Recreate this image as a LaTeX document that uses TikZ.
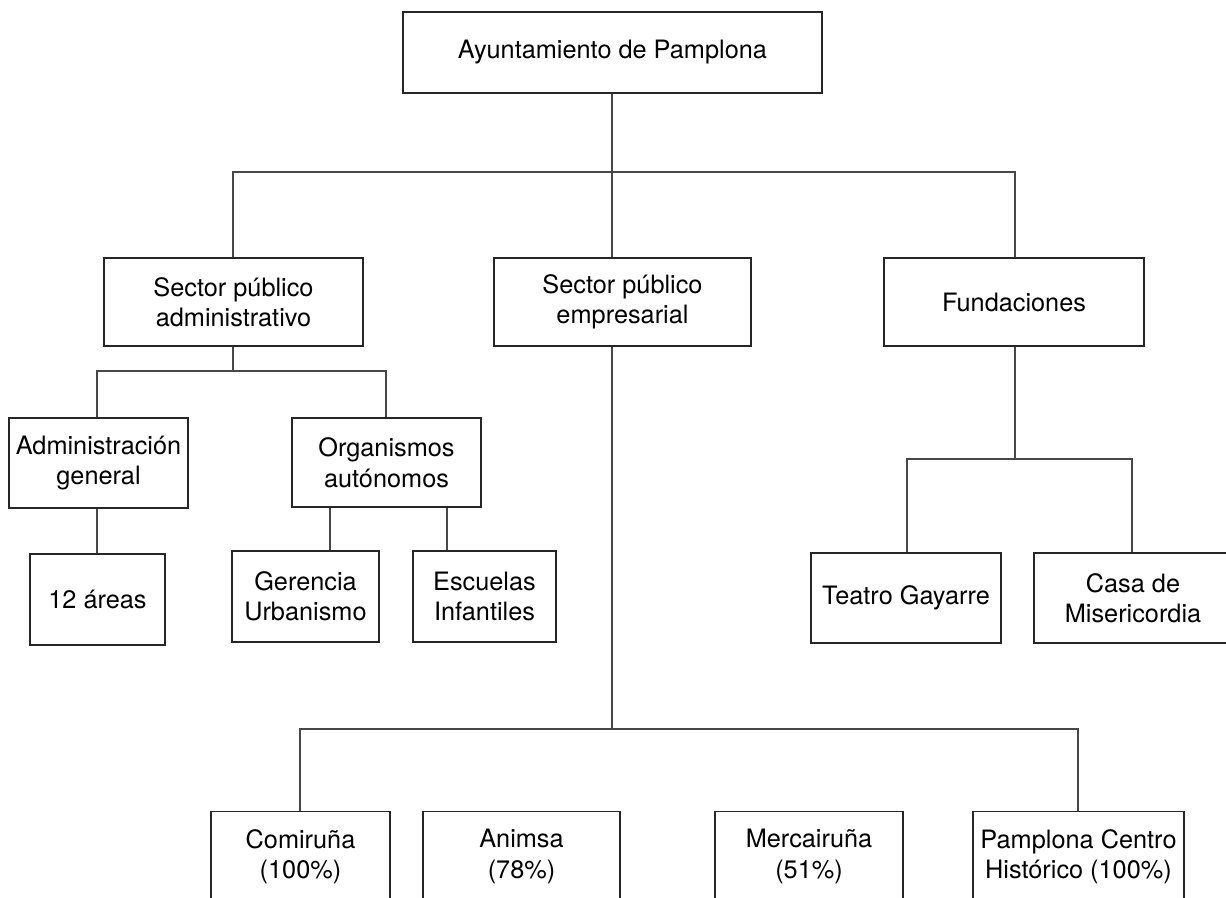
\documentclass[tikz,border=0pt]{standalone}
\usepackage{fontspec}
\setmainfont{TeX Gyre Heros}
\begin{document}
\begin{tikzpicture}[x=1pt,y=-1pt,
  box/.style={draw=black!85,line width=1.1pt,fill=white,inner sep=0pt,align=center,
    font=\fontsize{25.3}{30.5}\selectfont},
  link/.style={draw=black!72,line width=1.2pt}]
\useasboundingbox (0,0) rectangle (1226,897);
% nodes
\node[box,minimum width=419pt,minimum height=81pt] (top) at (612.5,52.5) {Ayuntamiento de Pamplona};
\node[box,minimum width=259pt,minimum height=88pt] (spa) at (233.5,302) {Sector público\\administrativo};
\node[box,minimum width=257pt,minimum height=88pt] (spe) at (622.5,302) {Sector público\\empresarial};
\node[box,minimum width=260pt,minimum height=88pt] (fun) at (1014,302) {Fundaciones};
\node[box,minimum width=179pt,minimum height=90pt] (adm) at (98.5,463) {Administración\\general};
\node[box,minimum width=189pt,minimum height=89pt] (org) at (386.5,462.5) {Organismos\\autónomos};
\node[box,minimum width=135pt,minimum height=91pt] (are) at (97.5,599.5) {12 áreas};
\node[box,minimum width=147pt,minimum height=91pt] (ger) at (305.5,596.5) {Gerencia\\Urbanismo};
\node[box,minimum width=143pt,minimum height=91pt] (esc) at (484.5,596.5) {Escuelas\\Infantiles};
\node[box,minimum width=190pt,minimum height=90pt] (tea) at (906,598) {Teatro Gayarre};
\node[box,minimum width=198pt,minimum height=90pt] (cas) at (1133,598) {Casa de\\Misericordia};
\node[box,minimum width=179pt,minimum height=90pt,anchor=north] (com) at (300.5,811) {Comiruña\\(100\%)};
\node[box,minimum width=197pt,minimum height=90pt,anchor=north] (ani) at (521.5,811) {Animsa\\(78\%)};
\node[box,minimum width=188pt,minimum height=90pt,anchor=north] (mer) at (809,811) {Mercairuña\\(51\%)};
\node[box,minimum width=211pt,minimum height=90pt,anchor=north] (pch) at (1078.5,811) {Pamplona Centro\\Histórico (100\%)};
% junction coordinates
\coordinate (j1) at (612,172);
\coordinate (j2) at (233,371);
\coordinate (j3) at (1015,459);
\coordinate (j4) at (612,729);
% level 1
\draw[link] (top.south -| j1) -- (j1);
\draw[link] (spa.north -| 233,0) |- (j1) -| (fun.north -| 1015,0);
\draw[link] (j1) -- (spe.north -| j1);
% sector administrativo
\draw[link] (spa.south -| j2) -- (j2);
\draw[link] (adm.north -| 97,0) |- (j2) -| (org.north -| 386,0);
\draw[link] (adm.south -| 97,0) -- (are.north -| 97,0);
\draw[link] (org.south -| 330,0) -- (ger.north -| 330,0);
\draw[link] (org.south -| 447,0) -- (esc.north -| 447,0);
% fundaciones
\draw[link] (fun.south -| j3) -- (j3);
\draw[link] (tea.north -| 907,0) |- (j3) -| (cas.north -| 1132,0);
% empresarial
\draw[link] (spe.south -| j4) -- (j4);
\draw[link] (com.north -| 300,0) |- (j4) -| (pch.north -| 1078,0);
\draw[link] (ani.north -| 522,0) -- (ani.north -| 522,729);
\draw[link] (mer.north -| 809,0) -- (mer.north -| 809,729);
\end{tikzpicture}
\end{document}
